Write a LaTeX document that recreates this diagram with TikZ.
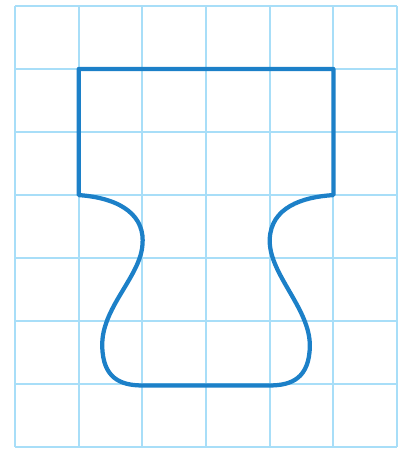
\documentclass[tikz,border=0pt]{standalone}
\usepackage{tikz}
\definecolor{gridblue}{RGB}{168,222,248}
\definecolor{shapeblue}{RGB}{28,128,200}

\begin{document}
\begin{tikzpicture}[y=0.99cm,
    gridline/.style={draw=gridblue, line width=0.9pt},
    outline/.style={draw=shapeblue, line width=1.9pt, line join=round}]
    \useasboundingbox (-0.236,-0.028) rectangle (6.156,7.095);
    \draw[gridline, step=1] (0,0) grid (6,7);
    \draw[outline] (1,4) .. controls (1.7,3.95) and (2.05,3.65) .. (2,3.2)
        .. controls (1.96,2.7) and (1.35,2.2) .. (1.37,1.6)
        .. controls (1.38,1.1) and (1.65,0.98) .. (2,0.98)
        -- (4,0.98)
        .. controls (4.35,0.98) and (4.62,1.1) .. (4.63,1.6)
        .. controls (4.64,2.2) and (3.98,2.75) .. (4,3.3)
        .. controls (4.02,3.8) and (4.5,3.97) .. (5,4)
        -- (5,6) -- (1,6) -- cycle;
\end{tikzpicture}
\end{document}
